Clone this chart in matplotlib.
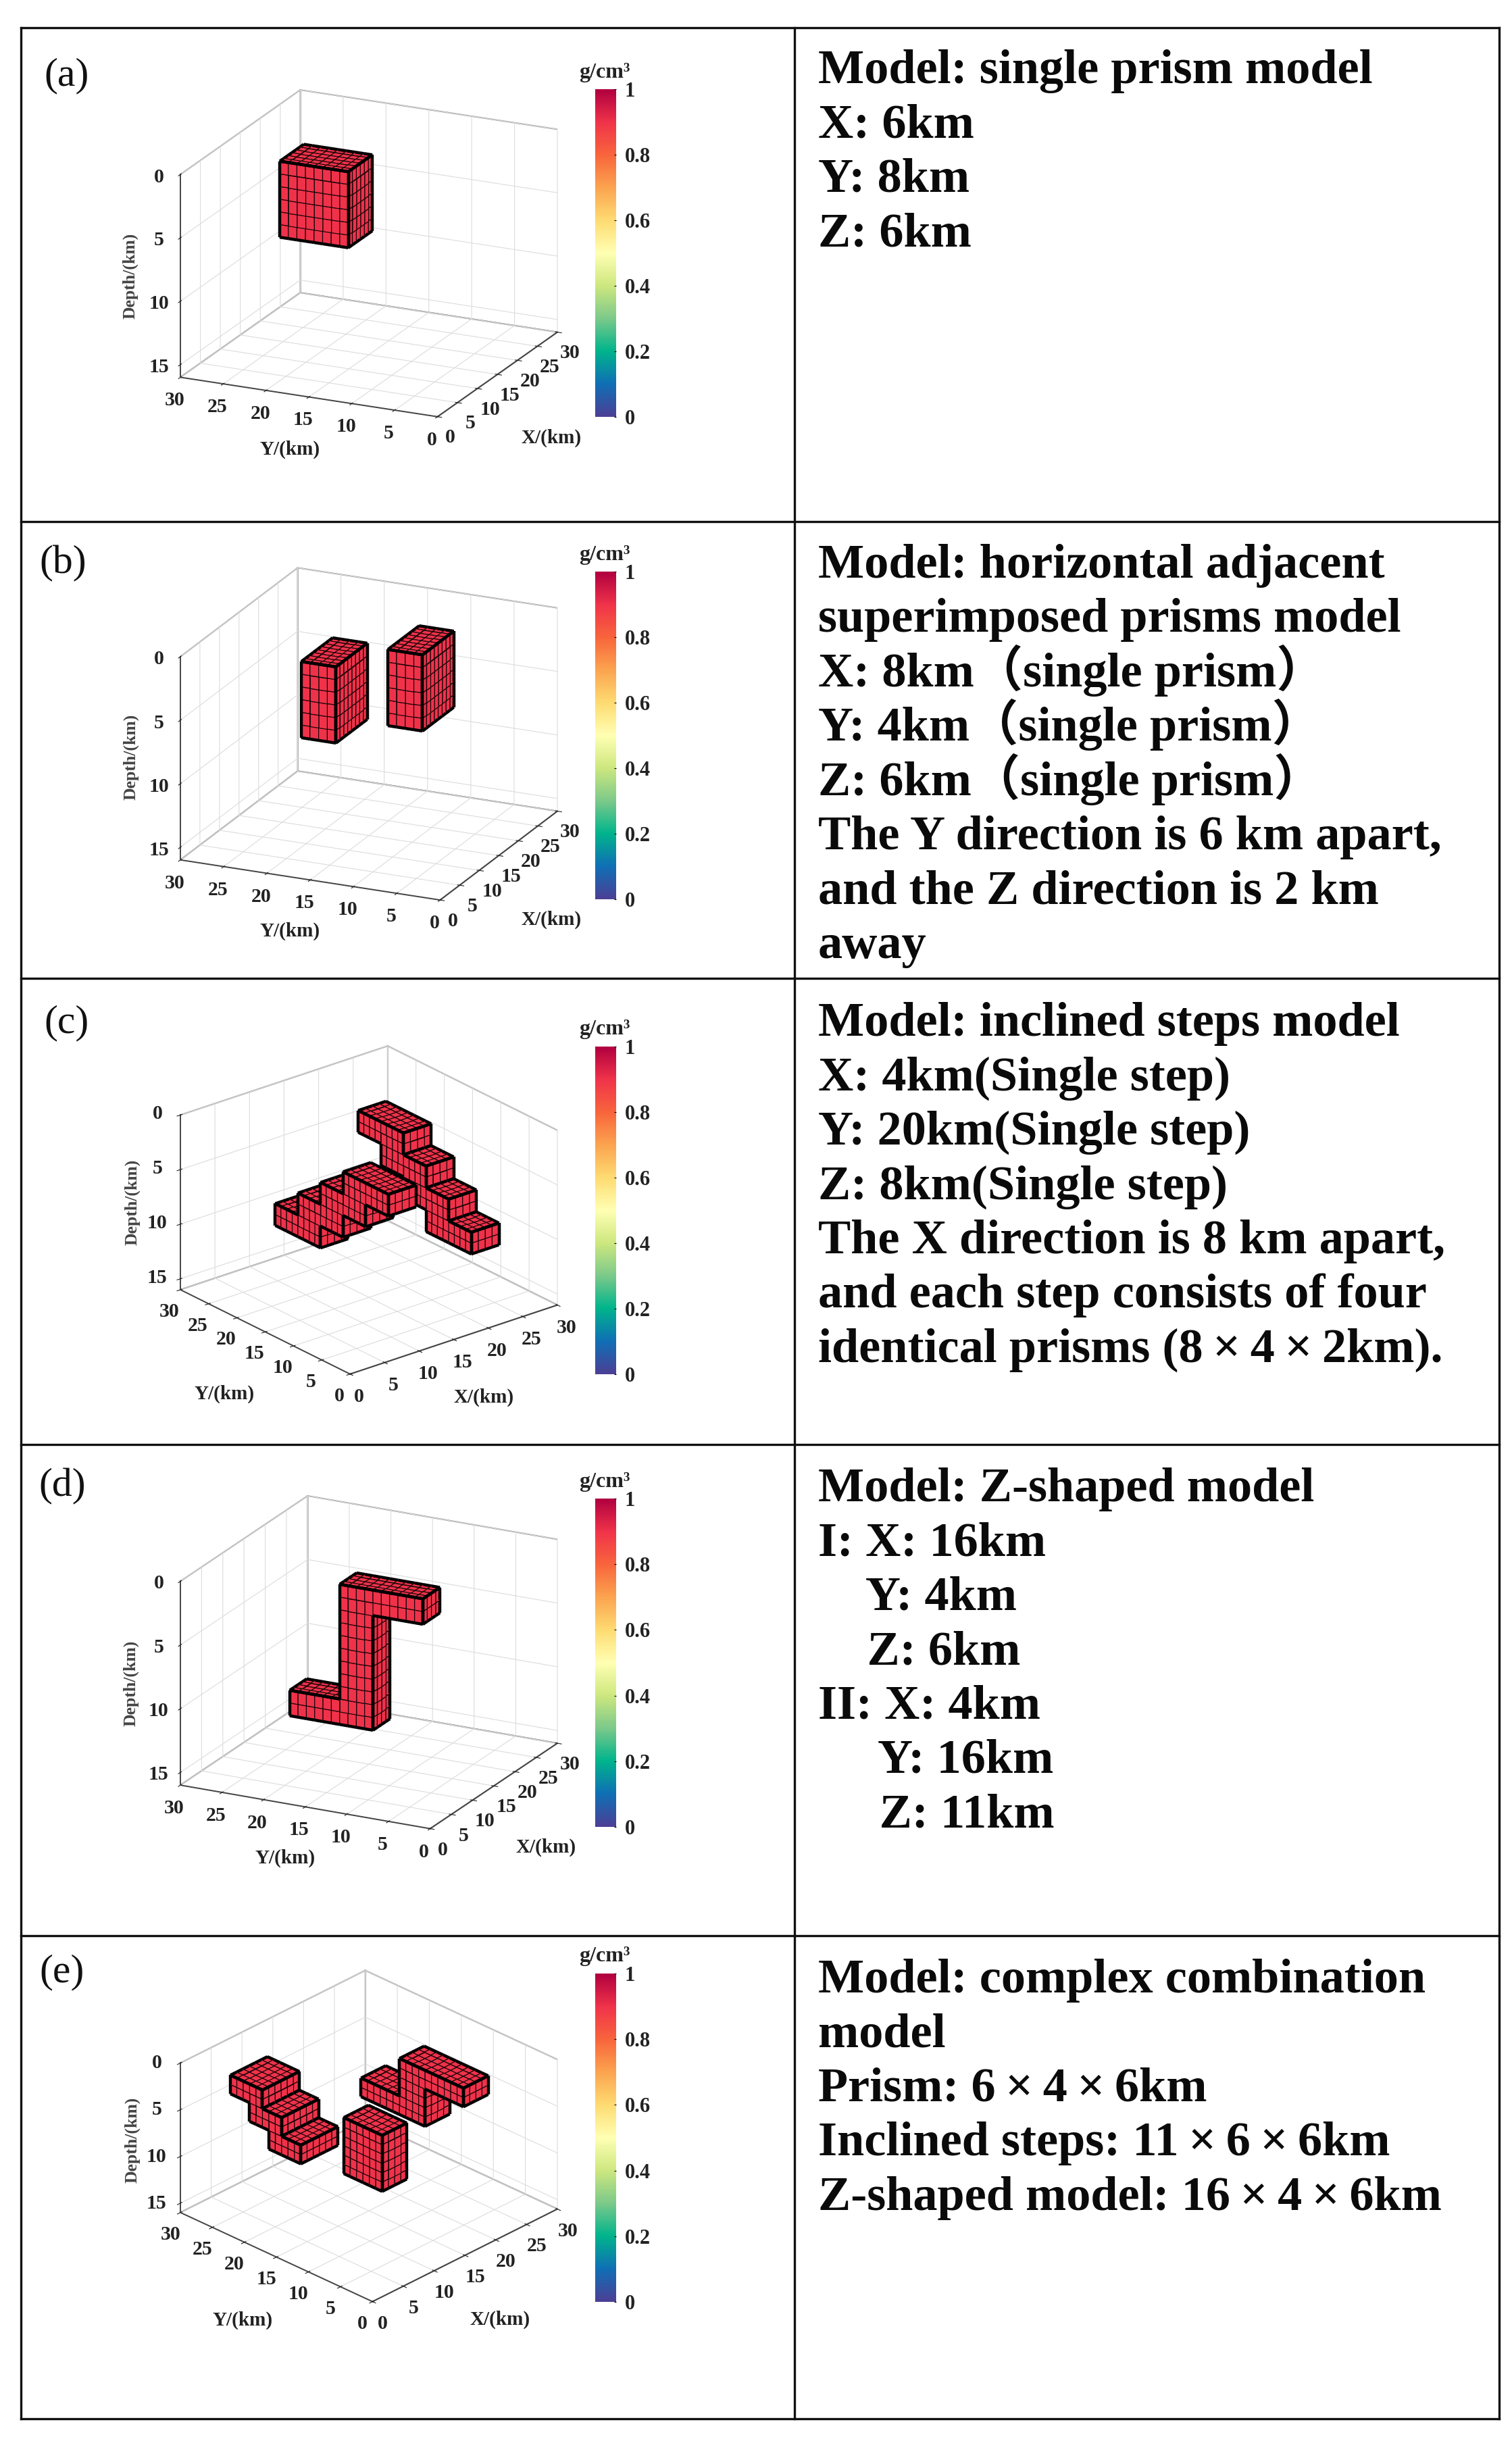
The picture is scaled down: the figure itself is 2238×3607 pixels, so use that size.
import numpy as np
import matplotlib
matplotlib.use("Agg")
import matplotlib.pyplot as plt
from matplotlib.cm import ScalarMappable
from matplotlib.colors import LinearSegmentedColormap, Normalize
from mpl_toolkits.mplot3d import proj3d
from mpl_toolkits.mplot3d.art3d import Line3DCollection

W, H = 2238, 3607

# prisms in km: (x0, x1, y0, y1, z0, z1)
prisms_a = [(12, 18, 16, 24, 1, 7)]
prisms_b = [(11, 19, 17, 21, 2, 8), (11, 19, 7, 11, 0, 6)]
prisms_c = [(20, 24, 15, 23, 2, 4), (20, 24, 11, 19, 4, 6), (20, 24, 7, 15, 6, 8), (20, 24, 3, 11, 8, 10),
            (8, 12, 3, 11, 2, 4), (8, 12, 7, 15, 4, 6), (8, 12, 11, 19, 6, 8), (8, 12, 15, 23, 8, 10)]
prisms_d = [(14, 18, 8, 18, 2, 4), (14, 18, 14, 18, 2, 13), (14, 18, 14, 24, 11, 13)]
prisms_e = [(13, 17, 11, 17, 6, 12),
            (5, 11, 22, 27, 2, 4), (5, 11, 19, 24, 4, 6), (5, 11, 16, 21, 6, 8),
            (21, 25, 6, 16, 2, 4), (21, 25, 12, 16, 2, 8), (21, 25, 12, 22, 6, 8)]
density = 0.9

axis_ticks = [0, 5, 10, 15, 20, 25, 30]
depth_ticks = [0, 5, 10, 15]
cbar_ticks = [0, 0.2, 0.4, 0.6, 0.8, 1]
cbar_labels = ["0", "0.2", "0.4", "0.6", "0.8", "1"]

panel_tags = ["(a)", "(b)", "(c)", "(d)", "(e)"]
panel_text = [
    ["Model: single prism model", "X: 6km", "Y: 8km", "Z: 6km"],
    ["Model: horizontal adjacent", "superimposed prisms model", "X: 8km（single prism）",
     "Y: 4km（single prism）", "Z: 6km（single prism）", "The Y direction is 6 km apart,",
     "and the Z direction is 2 km", "away"],
    ["Model: inclined steps model", "X: 4km(Single step)", "Y: 20km(Single step)", "Z: 8km(Single step)",
     "The X direction is 8 km apart,", "and each step consists of four", "identical prisms (8\u2009×\u20094\u2009×\u20092km)."],
    ["Model: Z-shaped model", "I: X: 16km", "    Y: 4km", "    Z: 6km", "II: X: 4km", "     Y: 16km", "     Z: 11km"],
    ["Model: complex combination", "model", "Prism: 6\u2009×\u20094\u2009×\u20096km", "Inclined steps: 11\u2009×\u20096\u2009×\u20096km",
     "Z-shaped model: 16\u2009×\u20094\u2009×\u20096km"],
]

SERIF = "Liberation Serif"
cmap = LinearSegmentedColormap.from_list("density", [
    "#4b3f95", "#0f6fb5", "#00b48c", "#7cc98a", "#cde77f", "#ffffb3",
    "#fedb72", "#fba44f", "#f8653c", "#f0334a", "#b0003f"])
plt.rcParams["font.family"] = [SERIF, "Noto Sans CJK SC"]
plt.rcParams["grid.color"] = "#dcdcdc"
plt.rcParams["grid.linewidth"] = 0.8

fig = plt.figure(figsize=(W / 100, H / 100), dpi=100)
over = fig.add_axes([0, 0, 1, 1], zorder=5)
over.set_xlim(0, W)
over.set_ylim(H, 0)
over.axis("off")


def draw_prisms(ax, prisms, azim, elev, aspect):
    filled = np.zeros((30, 30, 16), dtype=bool)
    for x0, x1, y0, y1, z0, z1 in prisms:
        filled[x0:x1, y0:y1, z0:z1] = True

    cells = ax.voxels(filled, facecolors=cmap(density), edgecolors="#1a0508", linewidth=0.85, shade=False)

    # far cells first
    az, el = np.radians(azim), np.radians(elev)
    cam = np.array([np.cos(el) * np.cos(az), np.cos(el) * np.sin(az), np.sin(el)])
    scale = np.array([1 / 30, 1 / 30, -aspect / 16])
    order = sorted(cells, key=lambda c: np.dot((np.array(c) + 0.5) * scale, cam))

    def shown(c, a):
        if min(c) < 0 or c[0] > 29 or c[1] > 29 or c[2] > 15 or not filled[c]:
            return False
        n = list(c)
        n[a] -= 1
        return n[a] < 0 or not filled[tuple(n)]

    for rank, c in enumerate(order):
        cells[c].set_zorder(10 + 2 * rank)
        segs = []
        for a in range(3):
            if not shown(c, a):
                continue
            b, d = [i for i in range(3) if i != a]
            for u, v in ((b, d), (d, b)):
                for side in (0, 1):
                    n = list(c)
                    n[u] += 2 * side - 1
                    if shown(tuple(n), a):
                        continue
                    p = np.array(c, dtype=float)
                    p[u] += side
                    q = p.copy()
                    q[v] += 1
                    segs.append([p, q])
        if segs:
            ax.add_collection3d(Line3DCollection(segs, colors="k", linewidths=3.2, zorder=11 + 2 * rank))


def make_panel(prisms, azim, elev, aspect, left_top, left_bot, front, right_bot):
    ax = fig.add_axes([0, 0, 1000 / W, 1000 / H], projection="3d", proj_type="ortho", computed_zorder=False)
    ax.set_facecolor("none")
    ax.view_init(elev=elev, azim=azim)
    ax.set_box_aspect((1, 1, aspect))
    draw_prisms(ax, prisms, azim, elev, aspect)
    ax.set_xlim(0, 30)
    ax.set_ylim(0, 30)
    ax.set_zlim(16, 0)
    ax.set_xticks(axis_ticks)
    ax.set_yticks(axis_ticks)
    ax.set_zticks(depth_ticks)
    for axis in (ax.xaxis, ax.yaxis, ax.zaxis):
        axis.set_pane_color("white")
        axis.pane.set_edgecolor("#8c8c8c")
        axis.pane.set_linewidth(1.4)
        axis.line.set_color("#444444")
        axis.line.set_linewidth(1.4)
    ax.tick_params(labelsize=21.5, pad=4, colors="#222222")
    ax.tick_params(axis="z", pad=6)
    for lab in ax.get_xticklabels() + ax.get_yticklabels() + ax.get_zticklabels():
        lab.set_fontweight("bold")
    for lab in ax.get_zticklabels():
        lab.set_va("center")

    # scale and move the axes so the box falls on the wanted pixels
    ax.apply_aspect()
    M = ax.get_proj()
    corners = {"lt": (0, 30, 0), "lb": (0, 30, 16), "f": (0, 0, 16), "rb": (30, 0, 16)}
    px = {}
    for k, (cx, cy, cz) in corners.items():
        xs, ys, _ = proj3d.proj_transform(cx, cy, cz, M)
        px[k] = ax.transData.transform((xs, ys)) / 1000
    size = (right_bot[0] - left_bot[0]) / (px["rb"][0] - px["lb"][0])
    x0 = left_bot[0] - size * px["lb"][0]
    y0 = ((H - left_top[1]) + (H - front[1]) - size * (px["lt"][1] + px["f"][1])) / 2
    ax.set_position([x0 / W, y0 / H, size / W, size / H])
    return ax


def add_colorbar(y_top, y_bot):
    cax = fig.add_axes([881 / W, 1 - y_bot / H, 31 / W, (y_bot - y_top) / H])
    cb = fig.colorbar(ScalarMappable(Normalize(0, 1), cmap), cax=cax, ticks=cbar_ticks)
    cb.ax.set_yticklabels(cbar_labels, fontsize=22, fontweight="bold", color="#222222")
    cb.ax.tick_params(length=2, pad=9, direction="in")
    cb.outline.set_visible(False)
    over.text(895, y_top - 25, "g/cm³", fontsize=23, fontweight="bold", ha="center", va="center", color="#222222")


# az, el and box corners per panel
panels = [
    (prisms_a, 205, 19.2, 0.757, (267, 258), (267, 558), (648, 617), (825, 490), 132, 617, (429, 665), (816, 648), (193, 408)),
    (prisms_b, 204.3, 20, 0.759, (267, 971), (267, 1272), (651, 1333), (825, 1205), 846, 1331, (429, 1378), (816, 1361), (194, 1120)),
    (prisms_c, 230.7, 24, 0.714, (267, 1650), (267, 1909), (518, 2034), (825, 1931), 1549, 2034, (332, 2063), (716, 2068), (196, 1779)),
    (prisms_d, 207, 20, 0.774, (267, 2341), (267, 2643), (637, 2706), (825, 2578), 2218, 2704, (422, 2750), (808, 2734), (194, 2491)),
    (prisms_e, 223.9, 28.8, 0.64, (267, 3053), (267, 3275), (552, 3407), (825, 3271), 2921, 3407, (359, 3434), (740, 3433), (196, 3167)),
]
for prisms, azim, elev, aspect, lt, lb, fr, rb, cb_top, cb_bot, ylab, xlab, zlab in panels:
    make_panel(prisms, azim, elev, aspect, lt, lb, fr, rb)
    add_colorbar(cb_top, cb_bot)
    over.text(*ylab, "Y/(km)", fontsize=21, fontweight="bold", ha="center", va="center", color="#222222")
    over.text(*xlab, "X/(km)", fontsize=21, fontweight="bold", ha="center", va="center", color="#222222")
    over.text(*zlab, "Depth/(km)", fontsize=18.5, fontweight="bold", rotation=90, ha="center", va="center", color="#444444")

# the table
row_lines = [41, 772, 1448, 2138, 2865, 3580]
col_lines = [31, 1176, 2219]
for y in row_lines:
    over.plot([col_lines[0], col_lines[-1]], [y, y], color="#111111", lw=2.4, solid_capstyle="projecting")
for x in col_lines:
    over.plot([x, x], [row_lines[0], row_lines[-1]], color="#111111", lw=2.4, solid_capstyle="projecting")

tag_pos = [(65, 112), (58, 834), (65, 1514), (57, 2200), (58, 2919)]
first_base = [123, 855, 1533, 2222, 2949]
for tag, (tx, ty), base, lines in zip(panel_tags, tag_pos, first_base, panel_text):
    over.text(tx, ty, tag, fontsize=43, ha="left", va="center", color="#111111")
    for i, line in enumerate(lines):
        over.text(1211, base + i * 80.4, line, fontsize=52, fontweight="bold", ha="left", va="baseline", color="#0a0a0a")

fig.savefig("out.png", dpi=100)
